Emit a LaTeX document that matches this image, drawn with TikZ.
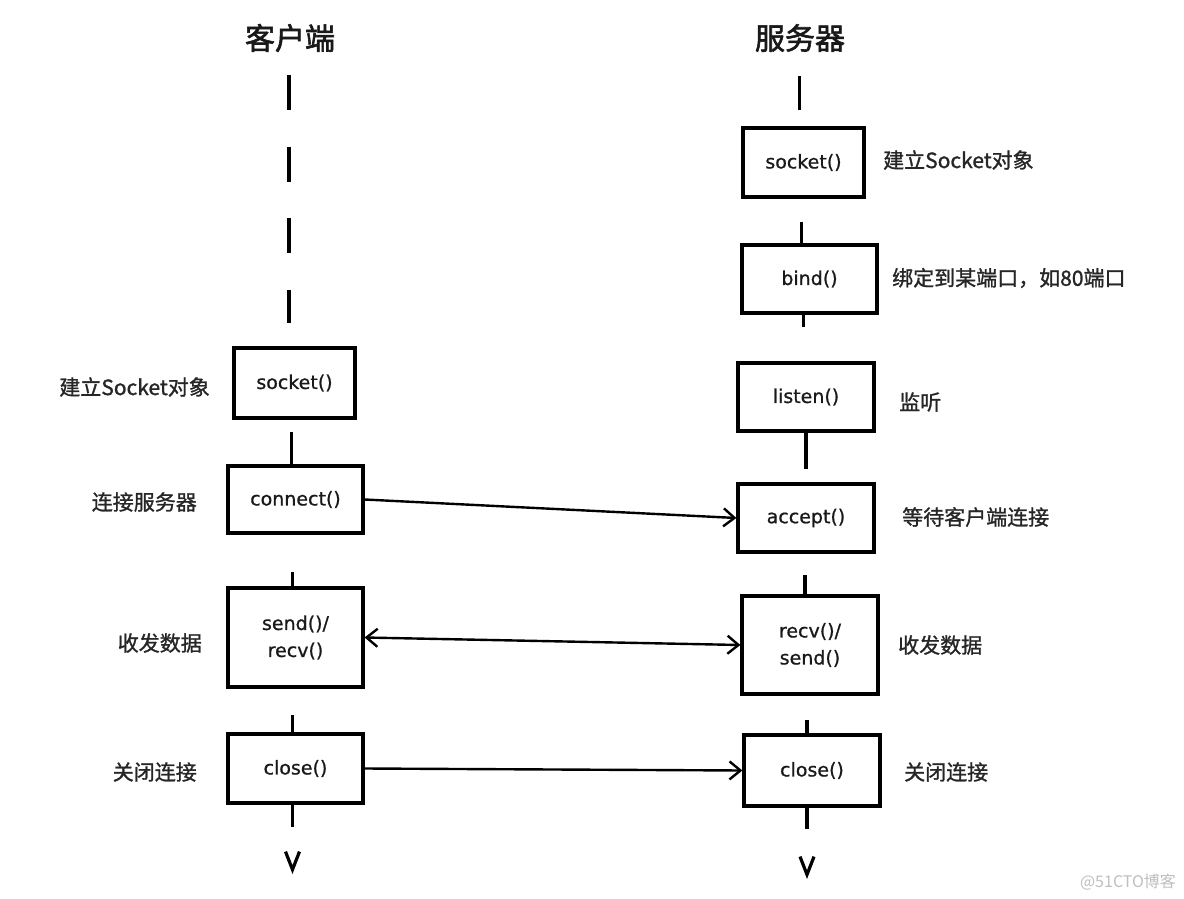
\documentclass[tikz,border=0pt]{standalone}
\usepackage{fontspec}
\setmainfont{DejaVu Sans}[FakeBold=0.8]
\newfontfamily\cjk{Noto Sans CJK SC}[FakeBold=1.2]
\newfontfamily\cjkt{Noto Sans CJK SC}[FakeBold=2]
\newfontfamily\cjkw{Noto Sans CJK SC}
\usetikzlibrary{arrows.meta}
\begin{document}
\begin{tikzpicture}[x=1pt,y=-1pt,
  fn/.style={draw=black, line width=3.2pt, inner sep=0pt, text=black!90, font=\fontsize{19}{27}\selectfont, align=center},
  lbl/.style={font=\cjk\fontsize{21}{24}\selectfont, inner sep=0pt, text=black!85},
  ttl/.style={font=\cjkt\fontsize{30}{34}\selectfont, inner sep=0pt, text=black!90},
  life/.style={line width=3.2pt},
  msg/.style={line width=2.4pt, -{Straight Barb[length=11pt,width=18pt,line width=2.4pt]}},
  dmsg/.style={line width=2.4pt, {Straight Barb[length=11pt,width=18pt,line width=2.4pt]}-{Straight Barb[length=11pt,width=18pt,line width=2.4pt]}},
]
\useasboundingbox[fill=white] (0,0) rectangle (1184,899);

% titles
\node[ttl] (tclient) at (290,38) {客户端};
\node[ttl] (tserver) at (800,38) {服务器};

% client boxes
\node[fn, minimum width=121pt, minimum height=70pt] (csock) at (294.5,383) {socket()};
\node[fn, minimum width=135pt, minimum height=67pt] (cconn) at (295.5,499.5) {connect()};
\node[fn, minimum width=135pt, minimum height=99pt] (csend) at (295.5,637.5) {send()/\\recv()};
\node[fn, minimum width=135pt, minimum height=69pt] (cclose) at (295.5,768.5) {close()};

% server boxes
\node[fn, minimum width=121pt, minimum height=69pt] (ssock) at (803.5,162.5) {socket()};
\node[fn, minimum width=135pt, minimum height=68pt] (sbind) at (809.5,279) {bind()};
\node[fn, minimum width=136pt, minimum height=68pt] (slisten) at (806,397) {listen()};
\node[fn, minimum width=136pt, minimum height=68pt] (saccept) at (806,518) {accept()};
\node[fn, minimum width=136pt, minimum height=98pt] (srecv) at (810,645) {recv()/\\send()};
\node[fn, minimum width=136pt, minimum height=71pt] (sclose) at (812,770.5) {close()};

% client labels
\node[lbl, anchor=east] (lc1) at (210,387) {建立Socket对象};
\node[lbl, anchor=east] (lc2) at (197,502) {连接服务器};
\node[lbl, anchor=east] (lc3) at (202,643) {收发数据};
\node[lbl, anchor=east] (lc4) at (197,772) {关闭连接};

% server labels
\node[lbl, anchor=west] (ls1) at (883,160) {建立Socket对象};
\node[lbl, anchor=west] (ls2) at (892,278) {绑定到某端口，如80端口};
\node[lbl, anchor=west] (ls3) at (899,402) {监听};
\node[lbl, anchor=west] (ls4) at (902,517) {等待客户端连接};
\node[lbl, anchor=west] (ls5) at (898,645) {收发数据};
\node[lbl, anchor=west] (ls6) at (904,772) {关闭连接};

% client lifeline
\coordinate (ctop) at (289,75);
\coordinate (cbot) at (289,323);
\draw[life, dash pattern=on 35pt off 36.7pt] (ctop) -- (cbot);
\draw[life] ([yshift=-12pt,xshift=-3pt]csock.south) -- ([xshift=-3pt]csock.south |- cconn.north);
\draw[life] ([yshift=14pt,xshift=-3pt]csend.north) -- ([xshift=-3pt]csend.north);
\draw[life] ([yshift=17pt,xshift=-3pt]cclose.north) -- ([xshift=-3pt]cclose.north);
\draw[life] ([xshift=-3pt]cclose.south) -- ([yshift=-22pt,xshift=-3pt]cclose.south);
\draw[life] ([xshift=-10pt,yshift=-47pt]cclose.south) -- ([xshift=-3pt,yshift=-65pt]cclose.south) -- ([xshift=4pt,yshift=-47pt]cclose.south);

% server lifeline
\draw[life] ([yshift=50pt,xshift=-4pt]ssock.north) -- ([yshift=16pt,xshift=-4pt]ssock.north);
\draw[life] ([yshift=-23pt,xshift=-2pt]ssock.south) -- ([xshift=-2pt]ssock.south |- sbind.north);
\draw[life] ([xshift=-6pt]sbind.south) -- ([yshift=-12pt,xshift=-6pt]sbind.south);
\draw[life] (slisten.south) -- ([yshift=-36pt]slisten.south);
\draw[life] ([yshift=19pt,xshift=-5pt]srecv.north) -- ([xshift=-5pt]srecv.north);
\draw[life] ([yshift=13pt,xshift=-5pt]sclose.north) -- ([xshift=-5pt]sclose.north);
\draw[life] ([xshift=-5pt]sclose.south) -- ([yshift=-21pt,xshift=-5pt]sclose.south);
\draw[life] ([xshift=-12pt,yshift=-49pt]sclose.south) -- ([xshift=-5pt,yshift=-67pt]sclose.south) -- ([xshift=2pt,yshift=-49pt]sclose.south);

% messages
\draw[msg] (cconn.east) -- (saccept.west);
\draw[dmsg] (csend.east) -- (srecv.west);
\draw[msg] (cclose.east) -- (sclose.west);

% watermark
\node[font=\cjkw\fontsize{16}{18}\selectfont, text=black!25, inner sep=0pt] (wm) at (1128,882) {@51CTO博客};
\end{tikzpicture}
\end{document}
